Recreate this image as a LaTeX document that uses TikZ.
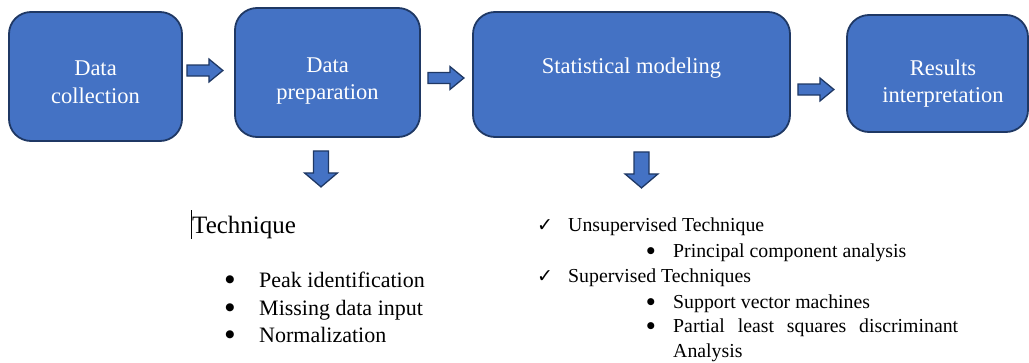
\documentclass[tikz,border=0pt]{standalone}
\usepackage{fontspec}
\setmainfont{Liberation Serif}
\newfontfamily\tnr{Liberation Serif}
\newfontfamily\symfont{DejaVu Sans}
\usetikzlibrary{calc}
\definecolor{boxblue}{HTML}{4472C4}
\definecolor{boxedge}{HTML}{1F3864}
\begin{document}
\begin{tikzpicture}[x=1pt,y=-1pt,
  box/.style={draw=boxedge, line width=1.8pt, fill=boxblue, rounded corners=22pt, inner sep=0pt},
  boxtext/.style={text=white, font=\tnr\fontsize{22.5}{28}\selectfont, anchor=base, inner sep=0pt},
  barrow/.style={draw=boxedge, line width=1.3pt, fill=boxblue, line join=miter},
  rblock/.pic={\draw[barrow] (0,-5.5) -- (22,-5.5) -- (22,-11.5) -- (36,0) -- (22,11.5) -- (22,5.5) -- (0,5.5) -- cycle;},
  dblock/.pic={\draw[barrow] (-7.5,0) -- (-7.5,22) -- (-16.5,22) -- (0,36) -- (16.5,22) -- (7.5,22) -- (7.5,0) -- cycle;},
  lt/.style={anchor=base west, inner sep=0pt, font=\tnr\fontsize{22}{27}\selectfont},
  rt/.style={anchor=base west, inner sep=0pt, font=\tnr\fontsize{19.8}{25}\selectfont},
  lb/.style={anchor=base, inner sep=0pt, font=\symfont\fontsize{10.5}{12}\selectfont},
  rb/.style={anchor=base, inner sep=0pt, font=\symfont\fontsize{9.2}{11}\selectfont},
  chk/.style={anchor=base, inner sep=0pt, font=\symfont\fontsize{19}{20}\selectfont}
]
\useasboundingbox (0,0) rectangle (1029,362);

% boxes
\node[box, minimum width=173pt, minimum height=129pt] (b1) at (95.5,76.5) {};
\node[box, minimum width=185pt, minimum height=129pt] (b2) at (327.5,72.5) {};
\node[box, minimum width=317pt, minimum height=125pt] (b3) at (631.5,74.5) {};
\node[box, minimum width=181pt, minimum height=117pt] (b4) at (937.5,73.5) {};

% box texts
\node[boxtext] (t1a) at (95.5,75) {Data};
\node[boxtext] (t1b) at (95.5,103) {collection};
\node[boxtext] (t2a) at (327.5,72) {Data};
\node[boxtext] (t2b) at (327.5,99) {preparation};
\node[boxtext] (t3) at (631.5,73) {Statistical modeling};
\node[boxtext] (t4a) at (943,75) {Results};
\node[boxtext] (t4b) at (943,102) {interpretation};

% block arrows
\pic (a1) at ($(b1.east)+(4,-6)$) {rblock};
\pic (a2) at ($(b2.east)+(7,5.5)$) {rblock};
\pic (a3) at ($(b3.east)+(7,15)$) {rblock};
\pic (d1) at ($(b2.south)+(-6.5,13)$) {dblock};
\pic (d2) at ($(b3.south)+(10,14)$) {dblock};

% left list
\draw[line width=0.8pt] (191,210) -- (191,239);
\node[anchor=base west, inner sep=0pt, font=\tnr\fontsize{25}{30}\selectfont] (tech) at (192,233) {Technique};
\node[lb] (bl1) at (230,282.5) {●};
\node[lt] (l1) at (259,287) {Peak identification};
\node[lb] (bl2) at (230,310.5) {●};
\node[lt] (l2) at (259,315) {Missing data input};
\node[lb] (bl3) at (230,337.5) {●};
\node[lt] (l3) at (259,342) {Normalization};

% right list
\node[chk] (c1) at (545,231) {✓};
\node[rt] (r1) at (568,231) {Unsupervised Technique};
\node[rb] (rb1) at (651,253) {●};
\node[rt] (r2) at (673,257) {Principal component analysis};
\node[chk] (c2) at (545,282) {✓};
\node[rt] (r3) at (568,282) {Supervised Techniques};
\node[rb] (rb2) at (651,304) {●};
\node[rt] (r4) at (673,308) {Support vector machines};
\node[rb] (rb3) at (651,328) {●};
\node[rt] (r5) at (673,332) {\makebox[285pt][s]{Partial least squares discriminant}};
\node[rt] (r6) at (673,357) {Analysis};
\end{tikzpicture}
\end{document}
